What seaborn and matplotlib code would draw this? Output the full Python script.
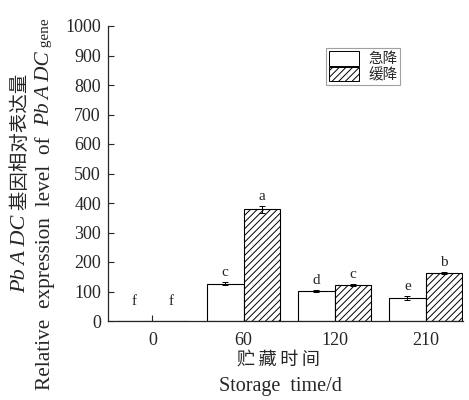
import numpy as np
import pandas as pd
import matplotlib
matplotlib.use('Agg')
import matplotlib.pyplot as plt
import seaborn as sns
from matplotlib.patches import Patch

days = ['0', '60', '120', '210']
treatments = ['急降', '缓降']
rapid = [1, 127, 101, 78]
slow = [1, 378, 121, 163]
rapid_err = [1, 5, 4, 8]
slow_err = [1, 12, 3, 3]
rapid_letters = ['f', 'c', 'd', 'e']
slow_letters = ['f', 'a', 'c', 'b']
yticks = list(range(0, 1001, 100))

sns.set_style('ticks')
plt.rcParams['font.family'] = ['Liberation Serif', 'Noto Sans CJK SC']
plt.rcParams['hatch.linewidth'] = 0.7
SERIF = ['Liberation Serif', 'Noto Sans CJK SC']
CJK = ['Noto Sans CJK SC', 'Liberation Serif']

df = pd.DataFrame({
    'day': days * 2,
    'value': rapid + slow,
    'treatment': [treatments[0]] * 4 + [treatments[1]] * 4,
})

fig = plt.figure(figsize=(4.69, 4.0), dpi=100)
ax = fig.add_axes([0.230, 0.1975, 0.757, 0.7375])

sns.barplot(data=df, x='day', y='value', hue='treatment', order=days,
            hue_order=treatments, palette=['white', 'white'], edgecolor='black',
            linewidth=0.8, errorbar=None, width=0.8, legend=False, ax=ax)

for bar in ax.containers[1]:
    bar.set_hatch('/////')

for cont, errs, letters in [(ax.containers[0], rapid_err, rapid_letters),
                            (ax.containers[1], slow_err, slow_letters)]:
    for bar, e, lt in zip(cont, errs, letters):
        xc = bar.get_x() + bar.get_width() / 2
        h = bar.get_height()
        if h > 5:
            ax.errorbar(xc, h, yerr=e, fmt='none', ecolor='black',
                        elinewidth=0.7, capsize=2, capthick=0.7)
        ax.text(xc, max(h + e + 10, 45), lt, ha='center', va='bottom',
                fontsize=11, family=SERIF)

ax.set_ylim(0, 1000)
ax.set_xlim(-0.49, 3.41)
ax.set_yticks(yticks)
ax.set_xlabel('')
ax.set_ylabel('')
ax.tick_params(direction='in', length=4, width=0.8, labelsize=13)
ax.tick_params(axis='y', pad=5)
ax.tick_params(axis='x', pad=8)
sns.despine(ax=ax)
for s in ['left', 'bottom']:
    ax.spines[s].set_linewidth(0.9)

handles = [Patch(facecolor='white', edgecolor='black', linewidth=0.7),
           Patch(facecolor='white', edgecolor='black', linewidth=0.7, hatch='/////')]
leg = ax.legend(handles, treatments, loc='upper left', bbox_to_anchor=(0.614, 0.925),
                borderaxespad=0, frameon=True, fancybox=False, borderpad=0.2,
                handlelength=2.1, handleheight=1.15, handletextpad=0.6,
                labelspacing=0.05, prop={'family': CJK, 'size': 10.5})
leg.get_frame().set_edgecolor('#888888')
leg.get_frame().set_linewidth(0.8)

fig.text(0.593, 0.10, '贮\u2009藏\u2009时\u2009间', ha='center', va='center',
         fontsize=13, family=CJK)
fig.text(0.597, 0.033, 'Storage  time/d', ha='center', va='center', fontsize=14.5,
         family=SERIF)

# rotated y label built from pieces (italic gene name)
fig.canvas.draw()
renderer = fig.canvas.get_renderer()


def vertical_line(x, y0, pieces):
    y = y0
    for txt, style, fam, size in pieces:
        t = fig.text(x, y, txt, rotation=90, ha='center', va='bottom',
                     fontsize=size, style=style, family=fam)
        bb = t.get_window_extent(renderer)
        y += bb.height / fig.bbox.height


vertical_line(0.043, 0.268, [('Pb\u2009A\u2009DC', 'italic', SERIF, 16),
                             ('\u2009基因相对表达量', 'normal', CJK, 14)])
vertical_line(0.096, 0.025, [('Relative  expression  level  of  ', 'normal', SERIF, 15.3),
                             ('Pb\u2009A\u2009DC', 'italic', SERIF, 15.3),
                             (' gene', 'normal', SERIF, 11)])

fig.savefig('out.png', dpi=100)
